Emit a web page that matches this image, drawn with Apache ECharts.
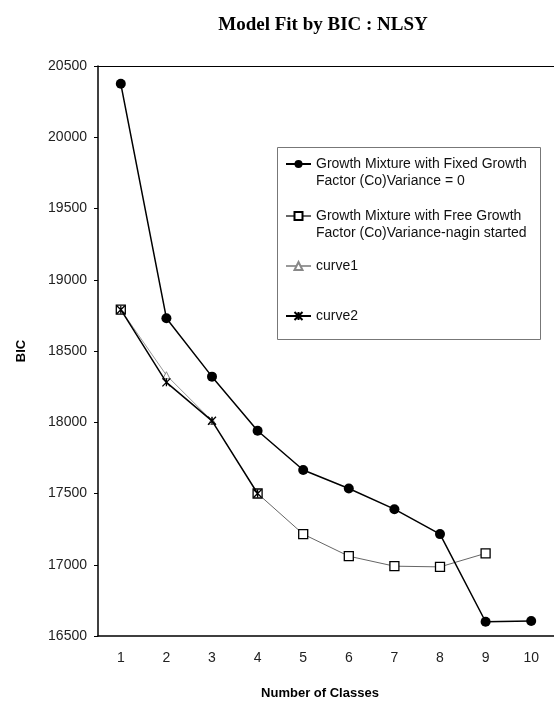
<!DOCTYPE html>
<html>
<head>
<meta charset="utf-8">
<script src="https://cdn.jsdelivr.net/npm/echarts@6/dist/echarts.min.js"></script>
<style>html,body{margin:0;padding:0;background:#fff}#c{width:554px;height:702px}</style>
</head>
<body>
<div id="c"></div>
<script>
var categories = ['1','2','3','4','5','6','7','8','9','10'];
var fixedValues = [20375, 18730, 18320, 17940, 17665, 17535, 17390, 17215, 16600, 16605];
var freeValues = [18790, null, null, 17500, 17215, 17060, 16990, 16985, 17080, null];
var curve1Values = [18790, 18330, 18010, null, null, null, null, null, null, null];
var curve2Values = [18790, 18280, 18010, 17500, null, null, null, null, null, null];
var names = {
  fixed: 'Growth Mixture with Fixed Growth\nFactor (Co)Variance = 0',
  free: 'Growth Mixture with Free Growth\nFactor (Co)Variance-nagin started',
  c1: 'curve1',
  c2: 'curve2'
};
var yMin = 16500, yMax = 20500, yStep = 500;

var chart = echarts.init(document.getElementById('c'), null, {renderer: 'canvas'});
var star = 'path://M0,0L10,10M10,0L0,10M5,0L5,10';
function legendAt(name, top, twoLine) {
  return {
    data: [name], left: 285, top: top, orient: 'vertical', padding: 0,
    itemWidth: 25, itemHeight: 10, selectedMode: false,
    formatter: twoLine ? function (n) { return ' \n' + n; } : null,
    textStyle: {fontFamily: 'Liberation Sans', fontSize: 14, color: '#111', lineHeight: 17}
  };
}
chart.setOption({
  animation: false,
  backgroundColor: '#fff',
  title: {
    text: 'Model Fit by BIC : NLSY', left: 318, top: 11, textAlign: 'center',
    textStyle: {fontFamily: 'Liberation Serif', fontWeight: 'bold', fontSize: 19, color: '#000'}
  },
  grid: {left: 98, right: 0, top: 66, bottom: 66, outerBoundsMode: 'none', containLabel: false},
  legend: [
    legendAt(names.fixed, 164 - 25.5, true),
    legendAt(names.free, 216 - 25.5, true),
    legendAt(names.c1, 266 - 8.5, false),
    legendAt(names.c2, 316 - 8.5, false)
  ],
  graphic: [{
    type: 'rect', shape: {x: 277.5, y: 147.5, width: 263, height: 192},
    style: {fill: 'none', stroke: '#777', lineWidth: 1}, z: 0
  }],
  xAxis: [{
    type: 'category', data: categories, boundaryGap: true,
    name: 'Number of Classes', nameLocation: 'middle', nameGap: 51,
    nameTextStyle: {fontFamily: 'Liberation Sans', fontWeight: 'bold', fontSize: 13, color: '#000', padding: [0, 12, 0, 0]},
    axisLine: {lineStyle: {color: '#000', width: 1.5}},
    axisTick: {show: false},
    axisLabel: {fontFamily: 'Liberation Sans', fontSize: 14, color: '#222', margin: 15},
    splitLine: {show: false}
  }, {
    type: 'category', data: categories, position: 'top',
    axisLine: {lineStyle: {color: '#000', width: 1}},
    axisTick: {show: false}, axisLabel: {show: false}, splitLine: {show: false}
  }],
  yAxis: {
    type: 'value', min: yMin, max: yMax, interval: yStep,
    name: 'BIC', nameLocation: 'middle', nameGap: 70,
    nameTextStyle: {fontFamily: 'Liberation Sans', fontWeight: 'bold', fontSize: 13, color: '#000'},
    axisLine: {show: true, lineStyle: {color: '#000', width: 1.5}},
    axisTick: {show: true, length: 4, lineStyle: {color: '#000'}},
    axisLabel: {fontFamily: 'Liberation Sans', fontSize: 14, color: '#222', margin: 11,
      formatter: function (v) { return String(v); }},
    splitLine: {show: false}
  },
  series: [{
    name: names.fixed, type: 'line', data: fixedValues,
    symbol: 'circle', symbolSize: 10, z: 5,
    lineStyle: {color: '#000', width: 1.5},
    itemStyle: {color: '#000'}
  }, {
    name: names.free, type: 'line', data: freeValues, connectNulls: false,
    symbol: 'rect', symbolSize: 9, z: 3,
    lineStyle: {color: '#666', width: 1},
    itemStyle: {color: '#fff', borderColor: '#000', borderWidth: 1.3}
  }, {
    name: names.c1, type: 'line', data: curve1Values,
    symbol: 'triangle', symbolSize: 7, z: 2,
    lineStyle: {color: '#999', width: 1},
    itemStyle: {color: '#fff', borderColor: '#888', borderWidth: 1}
  }, {
    name: names.c2, type: 'line', data: curve2Values,
    symbol: star, symbolSize: 8, z: 4,
    lineStyle: {color: '#000', width: 1.5},
    itemStyle: {color: '#000', borderColor: '#000', borderWidth: 1.3}
  }]
});
</script>
</body>
</html>
